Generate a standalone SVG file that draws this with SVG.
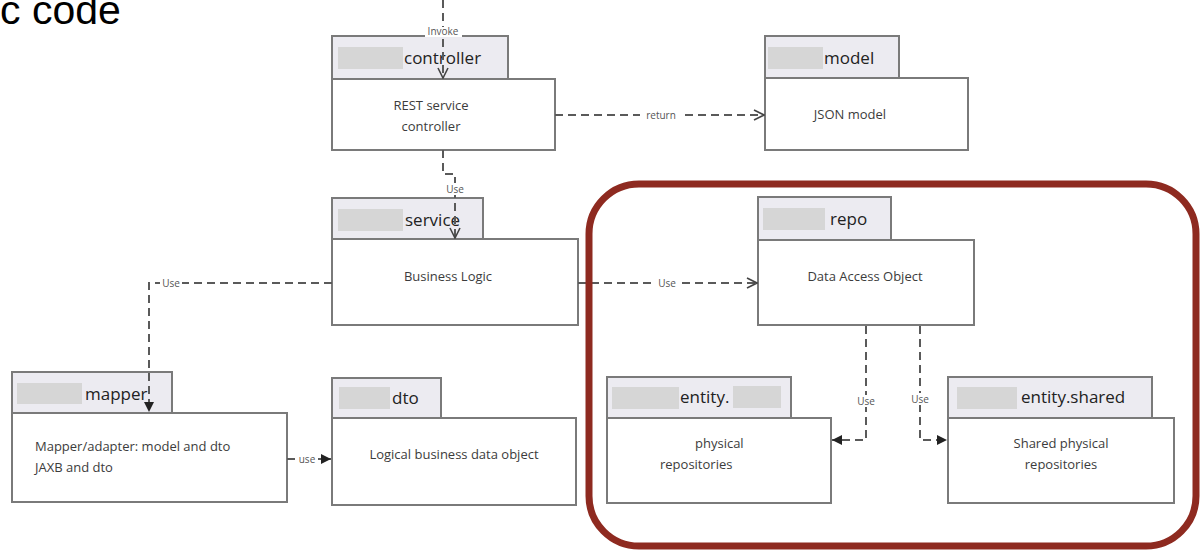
<svg xmlns="http://www.w3.org/2000/svg" width="1203" height="552" viewBox="0 0 1203 552">
<style>
.tab{fill:#ecebf1;stroke:#7a7a7a;stroke-width:2}
.body{fill:#ffffff;stroke:#7a7a7a;stroke-width:2}
.ph{fill:#d6d6d6}
.lbl{font-family:"Open Sans","Noto Sans",sans-serif;font-size:17px;fill:#222}
.txt{font-family:"Open Sans","Noto Sans",sans-serif;font-size:13px;fill:#3c3c3c}
.conn{fill:none;stroke:#5a5a5a;stroke-width:2;stroke-dasharray:8 5}
.cl{font-family:"Open Sans","Noto Sans",sans-serif;font-size:10px;fill:#555}
.bg{fill:#ffffff}
</style>
<defs>
<marker id="open" viewBox="0 0 12 12" refX="11" refY="6" markerWidth="12" markerHeight="12" markerUnits="userSpaceOnUse" orient="auto">
<path d="M1,1 L11,6 L1,11" fill="none" stroke="#444" stroke-width="1.6"/>
</marker>
<marker id="fill" viewBox="0 0 10 10" refX="10" refY="5" markerWidth="10" markerHeight="10" markerUnits="userSpaceOnUse" orient="auto">
<path d="M0,0 L10,5 L0,10 z" fill="#222"/>
</marker>
</defs>
<rect width="1203" height="552" fill="#ffffff"/>
<text x="0" y="24" font-family="Liberation Sans, Arial, sans-serif" font-size="41" fill="#000">c code</text>

<g id="controller">
<rect class="tab" x="332" y="36" width="176" height="43"/>
<rect class="body" x="332" y="79" width="223" height="71"/>
<rect class="ph" x="338" y="47" width="65" height="22"/>
<text class="lbl" x="404" y="64">controller</text>
<text class="txt" x="431" y="110" text-anchor="middle">REST service</text>
<text class="txt" x="431" y="131" text-anchor="middle">controller</text>
</g>
<g id="model">
<rect class="tab" x="765" y="36" width="134" height="42"/>
<rect class="body" x="765" y="78" width="203" height="72"/>
<rect class="ph" x="768" y="47" width="55" height="22"/>
<text class="lbl" x="824" y="64">model</text>
<text class="txt" x="850" y="119" text-anchor="middle">JSON model</text>
</g>
<g id="service">
<rect class="tab" x="332" y="198" width="151" height="41"/>
<rect class="body" x="332" y="239" width="246" height="86"/>
<rect class="ph" x="338" y="209" width="65" height="22"/>
<text class="lbl" x="405" y="226">service</text>
<text class="txt" x="448" y="281" text-anchor="middle">Business Logic</text>
</g>
<g id="repo">
<rect class="tab" x="758" y="197" width="133" height="43"/>
<rect class="body" x="758" y="240" width="216" height="85"/>
<rect class="ph" x="763" y="208" width="62" height="22"/>
<text class="lbl" x="830" y="225">repo</text>
<text class="txt" x="865" y="281" text-anchor="middle">Data Access Object</text>
</g>
<g id="mapper">
<rect class="tab" x="12" y="372" width="160" height="41"/>
<rect class="body" x="12" y="413" width="275" height="89"/>
<rect class="ph" x="17" y="383" width="65" height="21"/>
<text class="lbl" x="85" y="400">mapper</text>
<text class="txt" x="35" y="451">Mapper/adapter: model and dto</text>
<text class="txt" x="35" y="472">JAXB and dto</text>
</g>
<g id="dto">
<rect class="tab" x="332" y="378" width="109" height="40"/>
<rect class="body" x="332" y="418" width="244" height="87"/>
<rect class="ph" x="339" y="387" width="51" height="22"/>
<text class="lbl" x="392" y="404">dto</text>
<text class="txt" x="454" y="459" text-anchor="middle">Logical business data object</text>
</g>
<g id="entity">
<rect class="tab" x="607" y="377" width="184" height="41"/>
<rect class="body" x="607" y="418" width="224" height="85"/>
<rect class="ph" x="612" y="387" width="67" height="22"/>
<rect class="ph" x="733" y="386" width="48" height="22"/>
<text class="lbl" x="680" y="403">entity.</text>
<text class="txt" x="695" y="448">physical</text>
<text class="txt" x="660" y="469">repositories</text>
</g>
<g id="entity-shared">
<rect class="tab" x="948" y="377" width="204" height="41"/>
<rect class="body" x="948" y="418" width="226" height="85"/>
<rect class="ph" x="957" y="387" width="60" height="22"/>
<text class="lbl" x="1021" y="403">entity.shared</text>
<text class="txt" x="1061" y="448" text-anchor="middle">Shared physical</text>
<text class="txt" x="1061" y="469" text-anchor="middle">repositories</text>
</g>

<g id="connectors">
<path class="conn" d="M443,0 V78" stroke-dasharray="3 5" marker-end="url(#open)"/>
<rect class="bg" x="425" y="27" width="37" height="10"/>
<text class="cl" x="443" y="35" text-anchor="middle">Invoke</text>

<path class="conn" d="M555,115 H764" marker-end="url(#open)"/>
<rect class="bg" x="640" y="109" width="42" height="12"/>
<text class="cl" x="661" y="119" text-anchor="middle">return</text>

<path class="conn" d="M443,150 V174 H455 V238" marker-end="url(#open)"/>
<rect class="bg" x="444" y="183" width="22" height="12"/>
<text class="cl" x="455" y="193" text-anchor="middle">Use</text>

<path class="conn" d="M578,283 H757" marker-end="url(#open)"/>
<rect class="bg" x="656" y="277" width="22" height="12"/>
<text class="cl" x="667" y="287" text-anchor="middle">Use</text>

<path class="conn" d="M332,283 H149 V412" marker-end="url(#fill)"/>
<rect class="bg" x="160" y="277" width="22" height="12"/>
<text class="cl" x="171" y="287" text-anchor="middle">Use</text>

<path class="conn" d="M287,459 H331" marker-end="url(#fill)"/>
<rect class="bg" x="296" y="453" width="22" height="12"/>
<text class="cl" x="307" y="463" text-anchor="middle">use</text>

<path class="conn" d="M866,326 V440 H832" marker-end="url(#fill)"/>
<rect class="bg" x="855" y="395" width="22" height="12"/>
<text class="cl" x="866" y="405" text-anchor="middle">Use</text>

<path class="conn" d="M920,326 V440 H947" marker-end="url(#fill)"/>
<rect class="bg" x="909" y="393" width="22" height="12"/>
<text class="cl" x="920" y="403" text-anchor="middle">Use</text>
</g>

<rect x="589" y="184" width="607" height="362" rx="50" ry="50" fill="none" stroke="#8e2a20" stroke-width="7"/>
</svg>
